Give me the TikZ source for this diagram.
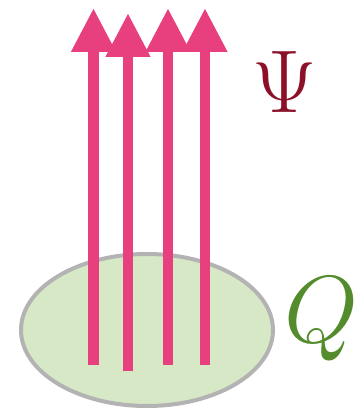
\documentclass[tikz,border=0pt]{standalone}
\usetikzlibrary{arrows.meta}
\definecolor{arrowpink}{HTML}{E8407F}
\definecolor{discfill}{HTML}{D7E8C6}
\definecolor{discline}{HTML}{B3B3B3}
\definecolor{psired}{HTML}{8B1028}
\definecolor{qgreen}{HTML}{548B2C}
\tikzset{
  flux/.style={arrowpink, line width=10.5pt,
    -{Triangle[length=44pt,width=42pt]}},
  disc/.style={draw=discline, fill=discfill, line width=4pt}
}
\begin{document}
\begin{tikzpicture}[x=1pt,y=-1pt]
\useasboundingbox (0,0) rectangle (359,412);
\draw[disc] (147,330) ellipse [x radius=126, y radius=76];
\coordinate (b1) at (93.5,365); \coordinate (t1) at (93.5,8);
\coordinate (b2) at (128,371); \coordinate (t2) at (128,13);
\coordinate (b3) at (168,365); \coordinate (t3) at (168,8);
\coordinate (b4) at (205,365); \coordinate (t4) at (205,8);
\draw[flux] (b1) -- (t1);
\draw[flux] (b2) -- (t2);
\draw[flux] (b3) -- (t3);
\draw[flux] (b4) -- (t4);
\node[text=psired, font=\fontsize{20}{20}\selectfont, scale=4.3] (psi) at (285,82) {$\Psi$};
\node[text=qgreen, font=\fontsize{20}{20}\selectfont, scale=4.6] (q) at (321,319) {$Q$};
\end{tikzpicture}
\end{document}
